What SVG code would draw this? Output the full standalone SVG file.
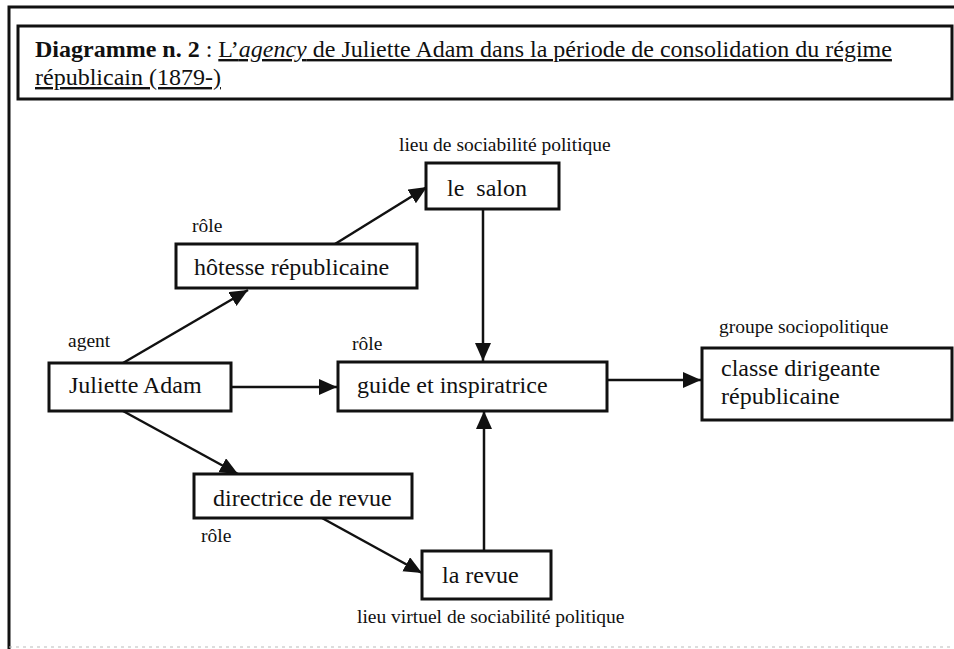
<svg xmlns="http://www.w3.org/2000/svg" width="954" height="649" viewBox="0 0 954 649">
<style>
text { font-family: "Liberation Serif", "Times New Roman", serif; fill: #111; }
.title { font-size: 24px; }
.node text { font-size: 24px; }
.lbl { font-size: 19.5px; }
.box { fill: #fff; stroke: #111; stroke-width: 3; }
.frame { fill: none; stroke: #111; stroke-width: 3; }
.conn line { stroke: #111; stroke-width: 2.5; marker-end: url(#arr); }
.u { text-decoration: underline; }
</style>
<defs>
<marker id="arr" markerUnits="userSpaceOnUse" markerWidth="20" markerHeight="18" refX="18" refY="8" orient="auto">
<path d="M0,0 L18,8 L0,16 z" fill="#111"/>
</marker>
</defs>
<rect width="954" height="649" fill="#fff"/>
<g id="frame">
<path class="frame" d="M9,649 V7 H954"/>
<line x1="9" y1="647" x2="954" y2="647" stroke="#bbb" stroke-width="1" stroke-dasharray="3 4"/>
</g>
<g id="title">
<rect class="box" x="18" y="26" width="934" height="73"/>
<text class="title" x="35" y="57"><tspan font-weight="bold">Diagramme n. 2</tspan> : <tspan class="u">L’<tspan font-style="italic">agency</tspan> de Juliette Adam dans la période de consolidation du régime</tspan></text>
<text class="title u" x="35" y="85">républicain (1879-)</text>
</g>
<g id="connectors" class="conn">
<line x1="123" y1="363" x2="248" y2="290"/>
<line x1="335" y1="244" x2="427" y2="187"/>
<line x1="483" y1="209" x2="483" y2="361"/>
<line x1="231" y1="387" x2="337" y2="387"/>
<line x1="607" y1="380" x2="701" y2="380"/>
<line x1="123" y1="411" x2="238" y2="474"/>
<line x1="322" y1="518" x2="422" y2="573"/>
<line x1="484" y1="551" x2="484" y2="411"/>
</g>
<g id="salon" class="node">
<rect class="box" x="426" y="163" width="133" height="46"/>
<text x="447" y="196" xml:space="preserve">le  salon</text>
</g>
<g id="hotesse" class="node">
<rect class="box" x="176" y="244" width="241" height="44"/>
<text x="194" y="275">hôtesse républicaine</text>
</g>
<g id="juliette" class="node">
<rect class="box" x="49" y="363" width="182" height="48"/>
<text x="69" y="393">Juliette Adam</text>
</g>
<g id="guide" class="node">
<rect class="box" x="338" y="362" width="269" height="49"/>
<text x="357" y="393">guide et inspiratrice</text>
</g>
<g id="classe" class="node">
<rect class="box" x="702" y="348" width="250" height="72"/>
<text x="721" y="376">classe dirigeante</text>
<text x="721" y="404">républicaine</text>
</g>
<g id="directrice" class="node">
<rect class="box" x="194" y="474" width="218" height="44"/>
<text x="213" y="506">directrice de revue</text>
</g>
<g id="revue" class="node">
<rect class="box" x="422" y="551" width="129" height="48"/>
<text x="442" y="583">la revue</text>
</g>
<g id="labels">
<text class="lbl" x="399" y="151">lieu de sociabilité politique</text>
<text class="lbl" x="192" y="232">rôle</text>
<text class="lbl" x="68" y="347">agent</text>
<text class="lbl" x="352" y="350">rôle</text>
<text class="lbl" x="719" y="333">groupe sociopolitique</text>
<text class="lbl" x="201" y="542">rôle</text>
<text class="lbl" x="357" y="623">lieu virtuel de sociabilité politique</text>
</g>
</svg>
